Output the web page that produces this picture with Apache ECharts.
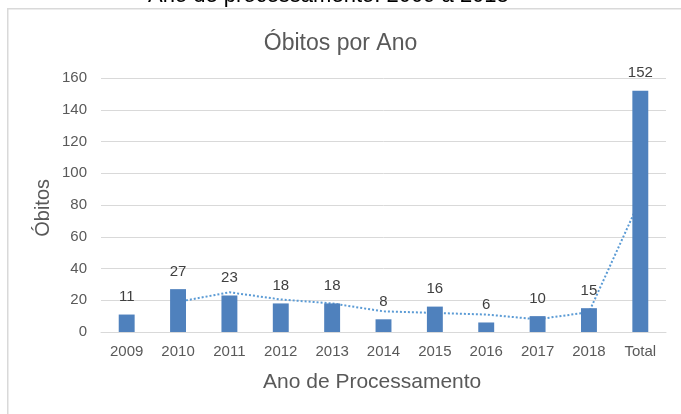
<!DOCTYPE html>
<html><head><meta charset="utf-8">
<script src="https://cdn.jsdelivr.net/npm/echarts@6/dist/echarts.min.js"></script>
<style>html,body{margin:0;padding:0;background:#fff}#c{width:681px;height:414px}</style>
</head><body><div id="c"></div>
<script>
const categories = ['2009','2010','2011','2012','2013','2014','2015','2016','2017','2018','Total'];
const obitos = [11,27,23,18,18,8,16,6,10,15,152];
const movingAvg = [null,19,25,20.5,18,13,12,11,8,12.5,83.5];
const yTicks = {min:0, max:160, interval:20};
const titleText = 'Óbitos por Ano';
const headerText = 'Ano de processamento: 2009 a 2018';
const xName = 'Ano de Processamento';
const yName = 'Óbitos';

const font = "'Liberation Sans',Arial,sans-serif";
const chart = echarts.init(document.getElementById('c'), null, {renderer:'canvas'});
chart.setOption({
  animation:false,
  graphic:[
    {type:'rect', left:7, top:8, shape:{width:700, height:430}, style:{fill:'#fff', stroke:'#d9d9d9', lineWidth:1.5}, z:-10},
    {type:'text', left:148, top:-15, style:{text:headerText, font:"22px 'Liberation Sans',Arial,sans-serif", fill:'#000'}},
    {type:'text', left:263, top:372, style:{text:xName, font:"21px 'Liberation Sans',Arial,sans-serif", fill:'#595959'}},
    {type:'text', left:33, top:179, rotation:Math.PI/2, style:{text:yName, font:"20px 'Liberation Sans',Arial,sans-serif", fill:'#595959'}}
  ],
  title:{text:titleText, left:'center', top:27, textStyle:{fontFamily:font, fontSize:23, fontWeight:'normal', color:'#595959'}},
  grid:{left:101, right:15, top:78, bottom:82},
  xAxis:{type:'category', data:categories,
    axisLine:{lineStyle:{color:'#d9d9d9'}}, axisTick:{show:false},
    axisLabel:{color:'#595959', fontFamily:font, fontSize:15, margin:12}},
  yAxis:{type:'value', min:yTicks.min, max:yTicks.max, interval:yTicks.interval,
    axisLine:{show:false}, axisTick:{show:false},
    splitLine:{lineStyle:{color:'#d9d9d9'}},
    axisLabel:{color:'#595959', fontFamily:font, fontSize:15, margin:14}},
  series:[
    {type:'line', data:movingAvg, z:1, symbol:'none', connectNulls:false,
      lineStyle:{color:'#5b9bd5', width:2, type:[2,2]}},
    {type:'bar', data:obitos, z:3, barWidth:'31%', itemStyle:{color:'#4f81bd'},
      label:{show:true, position:'top', distance:10, color:'#404040', fontFamily:font, fontSize:15}}
  ]
});
</script></body></html>
